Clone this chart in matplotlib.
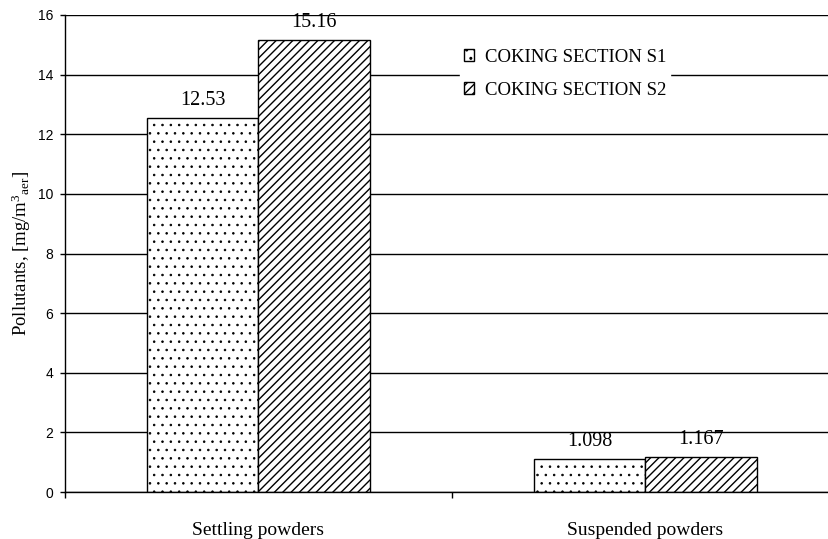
import matplotlib
matplotlib.use("Agg")
import matplotlib.pyplot as plt
import numpy as np

categories = ["Settling powders", "Suspended powders"]
series_names = ["COKING SECTION S1", "COKING SECTION S2"]
s1_values = [12.53, 1.098]
s2_values = [15.16, 1.167]
value_labels_s1 = ["12.53", "1.098"]
value_labels_s2 = ["15.16", "1.167"]
y_ticks = [0, 2, 4, 6, 8, 10, 12, 14, 16]

plt.rcParams["mathtext.fontset"] = "custom"
plt.rcParams["mathtext.rm"] = "Liberation Serif"
plt.rcParams["mathtext.it"] = "Liberation Serif:italic"

serif = "Liberation Serif"
sans = "Liberation Sans"

fig = plt.figure(figsize=(8.29, 5.39), dpi=100)
W, H = 829, 539
ax = fig.add_axes([65 / W, 1 - 492 / H, 774 / W, 477 / H])

x = np.arange(len(categories))
bw = 0.287


def hatched_bars(xpos, values, hatch, hlw, label):
    with plt.rc_context({"hatch.linewidth": hlw, "hatch.color": "#222222"}):
        bars = ax.bar(xpos, values, bw, facecolor="white", edgecolor="black",
                      hatch=hatch, linewidth=1.0, zorder=3, label=label)
    for rect in bars:
        if hasattr(rect, "set_hatch_linewidth"):
            rect.set_hatch_linewidth(hlw)
    return bars


b1 = hatched_bars(x - bw / 2, s1_values, "..", 0.6, series_names[0])
b2 = hatched_bars(x + bw / 2, s2_values, "////", 1.0, series_names[1])

for bars, labels in ((b1, value_labels_s1), (b2, value_labels_s2)):
    for rect, lab in zip(bars, labels):
        ax.annotate(lab, (rect.get_x() + rect.get_width() / 2, rect.get_height()),
                    xytext=(0, 6), textcoords="offset points", ha="center",
                    va="bottom", fontsize=14.5, family=serif, zorder=1)

ax.set_ylim(0, 16)
ax.set_xlim(-0.5, 1.5)
ax.set_yticks(y_ticks)
ax.set_yticklabels([str(v) for v in y_ticks], family=sans, fontsize=10)
ax.yaxis.grid(True, color="black", linewidth=1.0, zorder=2)
ax.set_axisbelow(False)

# category boundaries carry the ticks, the names sit between them
ax.set_xticks([-0.5, 0.5, 1.5])
ax.set_xticklabels(["", "", ""])
ax.set_xticks(x, minor=True)
ax.set_xticklabels(categories, minor=True, family=serif, fontsize=14)
ax.tick_params(axis="x", which="minor", length=0, pad=21.5)
ax.tick_params(axis="x", which="major", direction="out", length=4, width=1)
ax.tick_params(axis="y", direction="out", length=3.6, width=1, pad=5)

for side in ("top", "right"):
    ax.spines[side].set_visible(False)
for side in ("left", "bottom"):
    ax.spines[side].set_linewidth(1.0)
    ax.spines[side].set_zorder(4)

ax.set_ylabel(r"Pollutants, [mg/m$^3$$_{\rm aer}$]", family=serif, fontsize=13.5,
              labelpad=3)

leg = ax.legend(loc="upper left", bbox_to_anchor=((460 - 65) / 774, 1 - (45 - 15) / 477),
                frameon=True, fancybox=False, edgecolor="white", framealpha=1,
                prop={"family": serif, "size": 13.5}, handlelength=0.55,
                handleheight=0.55, handletextpad=0.6, labelspacing=0.85,
                borderpad=0.2, borderaxespad=0)
leg.set_zorder(5)

fig.savefig("out.png", dpi=100)
